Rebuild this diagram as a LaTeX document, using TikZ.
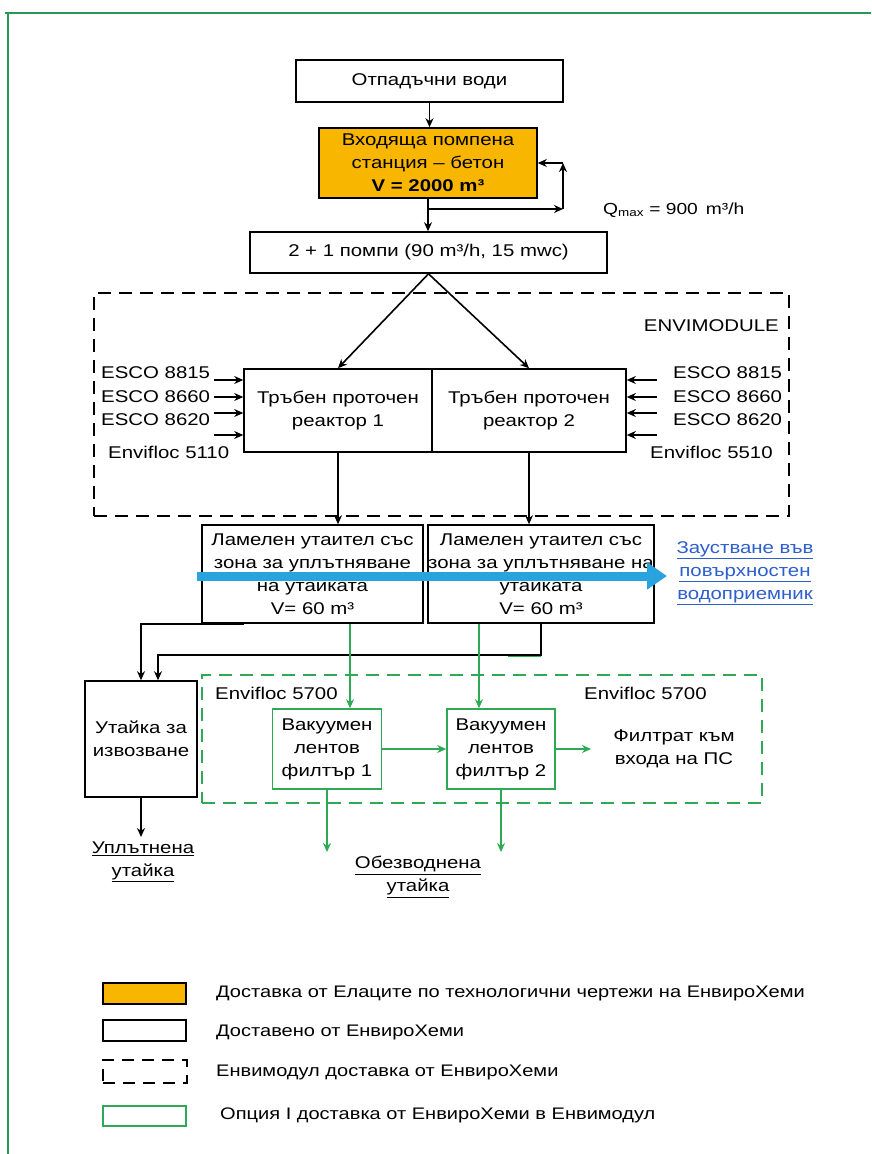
\documentclass[tikz,border=0pt]{standalone}
\usepackage{fontspec}
\setmainfont{Liberation Sans}[FakeStretch=1.2]
\usetikzlibrary{arrows.meta,calc}
\definecolor{orng}{RGB}{248,182,0}
\definecolor{grn}{RGB}{46,170,84}
\definecolor{frm}{RGB}{40,150,85}
\definecolor{bluearr}{RGB}{41,163,222}
\definecolor{lnk}{RGB}{45,95,205}
\begin{document}
\begin{tikzpicture}[x=1pt,y=-1pt,
  font=\fontsize{17}{23}\selectfont,
  bx/.style={draw=black, line width=1.6pt, inner sep=0pt, align=center},
  gbx/.style={draw=grn, line width=1.6pt, inner sep=0pt, align=center},
  lbl/.style={inner sep=0pt, align=center},
  leg/.style={inner sep=0pt, anchor=west, font=\fontsize{16.7}{20}\selectfont},
  arr/.style={line width=1.6pt, -{Stealth[length=9pt,width=8pt]}},
  garr/.style={draw=grn, line width=1.6pt, -{Stealth[length=9pt,width=8pt]}},
  dbox/.style={dash pattern=on 13pt off 8pt, line width=1.6pt, inner sep=0pt}]

\useasboundingbox (0,0) rectangle (871,1154);
\fill[white] (0,0) rectangle (871,1154);
\draw[frm, line width=2.5pt] (5,13) -- (871,13);
\draw[frm, line width=2pt] (8,13) -- (8,1154);

% top chain
\node[bx, minimum width=267pt, minimum height=42pt] (src) at (429.5,81) {Отпадъчни води};
\node[bx, fill=orng, minimum width=218pt, minimum height=70pt] (ps) at (428,163) {Входяща помпена\\станция – бетон\\\textbf{V = 2000 m³}};
\node[bx, minimum width=357pt, minimum height=41pt] (pumps) at (428.5,252.5) {2 + 1 помпи (90 m³/h, 15 mwc)};
\draw[arr] (src.south) -- (src.south |- ps.north);
\draw[arr] (ps.south) -- (ps.south |- pumps.north);
\coordinate (rc1) at (428,209);
\coordinate (rc2) at (563,209);
\coordinate (rc3) at (563,163);
\draw[arr] (rc1) -- (rc2);
\draw[arr] (rc2) -- (rc3);
\draw[arr] (rc3) -- (ps.east);
\node[lbl, anchor=west, font=\fontsize{16}{20}\selectfont] (q) at (603,210) {Q\textsubscript{max} = 900\enspace m³/h};

% envimodule
\node[draw=black, dbox, minimum width=695pt, minimum height=223pt] (env) at (441.5,404.5) {};
\node[lbl, anchor=east] (envl) at (779,326) {ENVIMODULE};
\node[bx, minimum width=188pt, minimum height=83pt] (r1) at (338,410.5) {Тръбен проточен\\реактор 1};
\node[bx, minimum width=194pt, minimum height=83pt] (r2) at (529,410.5) {Тръбен проточен\\реактор 2};
\draw[arr] (pumps.south) -- (r1.north);
\draw[arr] (pumps.south) -- (r2.north);

\node[lbl, anchor=west] (el1) at (101,373) {ESCO 8815};
\node[lbl, anchor=west] (el2) at (101,397) {ESCO 8660};
\node[lbl, anchor=west] (el3) at (101,420) {ESCO 8620};
\node[lbl, anchor=west] (el4) at (108,452) {Envifloc 5110};
\coordinate (la1) at (214,380);
\coordinate (la2) at (214,397);
\coordinate (la3) at (214,413);
\coordinate (la4) at (214,435);
\foreach \c in {la1,la2,la3,la4} \draw[arr] (\c) -- (\c -| r1.west);

\node[lbl, anchor=west] (er1) at (673,373) {ESCO 8815};
\node[lbl, anchor=west] (er2) at (673,397) {ESCO 8660};
\node[lbl, anchor=west] (er3) at (673,420) {ESCO 8620};
\node[lbl, anchor=west] (er4) at (650,452) {Envifloc 5510};
\coordinate (ra1) at (657,380);
\coordinate (ra2) at (657,397);
\coordinate (ra3) at (657,413);
\coordinate (ra4) at (657,435);
\foreach \c in {ra1,ra2,ra3,ra4} \draw[arr] (\c) -- (\c -| r2.east);

% settlers
\node[bx, minimum width=221pt, minimum height=98pt] (s1) at (312.5,574) {Ламелен утаител със\\зона за уплътняване\\на утайката\\V= 60 m³};
\node[bx, minimum width=224pt, minimum height=98pt] (s2) at (541,574) {Ламелен утаител със\\зона за уплътняване на\\утайката\\V= 60 m³};
\draw[arr] (r1.south) -- (r1.south |- s1.north);
\draw[arr] (r2.south) -- (r2.south |- s2.north);

% blue discharge arrow
\node[lbl, text=lnk] (out) at (745,573.5) {\underline{Заустване във}\\\underline{повърхностен}\\\underline{водоприемник}};
\coordinate (bs) at (197,576);
\coordinate (be) at (667,576);
\draw[bluearr, line width=9pt, -{Triangle[length=20pt,width=26pt]}] (bs) -- (be);

% sludge
\node[bx, minimum width=112pt, minimum height=116pt] (sl) at (141,739) {Утайка за\\извозване};
\draw[arr, line width=2pt] ([xshift=43pt]s1.south west) -- (sl.north |- s1.south) -- (sl.north);
\draw[grn, line width=2.5pt] (508,656) -- (541,656);
\draw[arr, line width=2pt] (s2.south) -- ++(0,31) -| ([xshift=17pt]sl.north);
\coordinate (d0) at (141,837);
\draw[arr] (sl.south) -- (d0);
\node[lbl] (ut) at (143,862) {\underline{Уплътнена}\\\underline{утайка}};

% option I
\node[draw=grn, dbox, minimum width=560pt, minimum height=128pt] (opt) at (482,739) {};
\node[lbl, anchor=west] (ef1) at (215,693) {Envifloc 5700};
\node[lbl, anchor=west] (ef2) at (584,693) {Envifloc 5700};
\node[gbx, minimum width=109pt, minimum height=80pt] (f1) at (327,749) {Вакуумен\\лентов\\филтър 1};
\node[gbx, minimum width=108pt, minimum height=80pt] (f2) at (501,749) {Вакуумен\\лентов\\филтър 2};
\draw[garr] ([xshift=23pt]f1.north |- s1.south) -- ([xshift=23pt]f1.north);
\draw[garr] ([xshift=-22pt]f2.north |- s2.south) -- ([xshift=-22pt]f2.north);
\draw[garr] (f1.east) -- (f2.west);
\node[lbl] (filt) at (674,749) {Филтрат към\\входа на ПС};
\coordinate (fe) at (591,749);
\draw[garr] (f2.east) -- (fe);
\coordinate (d1) at (327,852);
\coordinate (d2) at (501,852);
\draw[garr] (f1.south) -- (d1);
\draw[garr] (f2.south) -- (d2);
\node[lbl] (ob) at (418,877) {\underline{Обезводнена}\\\underline{утайка}};

% legend
\node[draw=black, line width=1.6pt, fill=orng, minimum width=83pt, minimum height=21pt, inner sep=0pt] (lg1) at (144.5,993.5) {};
\node[leg] (lt1) at (216,993) {Доставка от Елаците по технологични чертежи на ЕнвироХеми};
\node[draw=black, line width=1.6pt, minimum width=83pt, minimum height=21pt, inner sep=0pt] (lg2) at (144.5,1030.5) {};
\node[leg] (lt2) at (216,1032) {Доставено от ЕнвироХеми};
\node[draw=black, dash pattern=on 12pt off 8pt, line width=1.6pt, minimum width=84pt, minimum height=23pt, inner sep=0pt] (lg3) at (145,1071.5) {};
\node[leg] (lt3) at (216,1072) {Енвимодул доставка от ЕнвироХеми};
\node[draw=grn, line width=1.6pt, minimum width=83pt, minimum height=20pt, inner sep=0pt] (lg4) at (144.5,1116) {};
\node[leg] (lt4) at (220,1115) {Опция I доставка от ЕнвироХеми в Енвимодул};
\end{tikzpicture}
\end{document}
